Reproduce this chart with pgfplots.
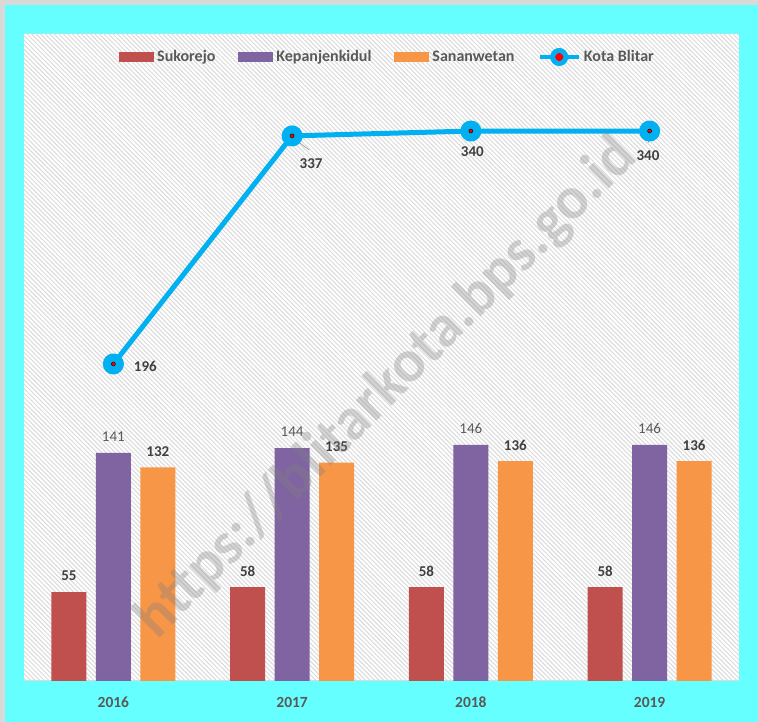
\documentclass[border=0pt]{standalone}
\usepackage{fontspec}
\setmainfont{Carlito}
\usepackage{pgfplots}
\pgfplotsset{compat=1.18}
\usetikzlibrary{patterns.meta}
\definecolor{bgcyan}{RGB}{102,255,255}
\definecolor{frame}{RGB}{217,217,217}
\definecolor{cSuk}{RGB}{192,80,77}
\definecolor{cKep}{RGB}{128,100,162}
\definecolor{cSan}{RGB}{247,150,70}
\definecolor{cLine}{RGB}{0,176,240}
\definecolor{txtDark}{RGB}{64,64,64}
\definecolor{txtGray}{RGB}{89,89,89}
\definecolor{hatch}{RGB}{218,218,218}
\begin{document}
\begin{tikzpicture}[x=1pt,y=1pt]
\fill[frame] (0,0) rectangle (758,722);
\fill[bgcyan] (5,0) rectangle (758,717);
\fill[white] (24,41) rectangle (739,688);
\fill[pattern={Lines[angle=-45,distance=3.2pt,line width=1pt]}, pattern color=hatch] (24,41) rectangle (739,688);
\begin{axis}[
  at={(24pt,41pt)}, anchor=south west,
  scale only axis, width=715pt, height=647pt,
  xmin=-0.5, xmax=3.5, ymin=0, ymax=400,
  axis y line=none, axis x line*=bottom,
  x axis line style={-, draw=frame, line width=1pt},
  xtick={0,1,2,3}, xticklabels={2016,2017,2018,2019},
  major tick length=0pt,
  xticklabel style={font=\bfseries\fontsize{15.5}{18}\selectfont, text=txtGray, anchor=center, yshift=-21pt},
  /pgf/number format/assume math mode=true,
  clip=false,
  legend columns=4,
  legend style={at={(0.5,1)}, anchor=center, xshift=6pt, yshift=-23pt, draw=none, fill=none,
    font=\bfseries\fontsize{16}{19}\selectfont, text=txtGray,
    /tikz/every odd column/.append style={column sep=1pt},
    /tikz/every even column/.append style={column sep=21pt}},
]
\addplot[draw=none, fill=cSuk, ybar, bar width=35pt, bar shift=-44.5pt,
  legend image code/.code={\fill[cSuk] (0pt,-5pt) rectangle (35pt,5pt);},
  nodes near coords,
  every node near coord/.append style={font=\bfseries\fontsize{15}{18}\selectfont, text=txtDark, anchor=center, xshift=-44.5pt, yshift=16pt}]
  coordinates {(0,55) (1,58) (2,58) (3,58)};
\addlegendentry{Sukorejo}
\addplot[draw=none, fill=cKep, ybar, bar width=35pt, bar shift=0pt,
  legend image code/.code={\fill[cKep] (0pt,-5pt) rectangle (35pt,5pt);},
  nodes near coords,
  every node near coord/.append style={font=\fontsize{15}{18}\selectfont, text=txtGray, anchor=center, yshift=16pt}]
  coordinates {(0,141) (1,144) (2,146) (3,146)};
\addlegendentry{Kepanjenkidul}
\addplot[draw=none, fill=cSan, ybar, bar width=35pt, bar shift=44.5pt,
  legend image code/.code={\fill[cSan] (0pt,-5pt) rectangle (35pt,5pt);},
  nodes near coords,
  every node near coord/.append style={font=\bfseries\fontsize{15}{18}\selectfont, text=txtDark, anchor=center, xshift=44.5pt, yshift=16pt}]
  coordinates {(0,132) (1,135) (2,136) (3,136)};
\addlegendentry{Sananwetan}
\addplot[cLine, line width=5pt, line join=round, mark=*, mark size=8pt,
  mark options={fill=cLine, draw=none},
  legend image code/.code={\draw[cLine, line width=4.5pt] (0pt,0pt) -- (39pt,0pt);
    \fill[cLine] (19.5pt,0pt) circle (6.5pt); \fill[red] (19.5pt,0pt) circle (1.6pt);}]
  coordinates {(0,196) (1,337) (2,340) (3,340)};
\addlegendentry{Kota Blitar}
\addplot[only marks, mark=*, mark size=2pt, mark options={fill=red, draw=none}, forget plot]
  coordinates {(0,196) (1,337) (2,340) (3,340)};
\draw[gray!80, line width=0.6pt] (axis cs:1,337) ++(1pt,-2pt) -- ++(16pt,-12pt);
\draw[gray!80, line width=0.6pt] (axis cs:3,340) ++(0pt,-5pt) -- ++(-1.5pt,-7pt);
\begin{scope}[every node/.style={font=\bfseries\fontsize{15}{18}\selectfont, text=txtDark}]
\node[anchor=west, xshift=17pt, yshift=-2pt] at (axis cs:0,196) {196};
\node[xshift=19pt, yshift=-28pt] at (axis cs:1,337) {337};
\node[xshift=1.5pt, yshift=-21pt] at (axis cs:2,340) {340};
\node[xshift=-1.6pt, yshift=-25pt] at (axis cs:3,340) {340};
\end{scope}
\end{axis}
\node[rotate=45, opacity=0.33, text=gray, font=\bfseries\fontsize{60}{60}\selectfont] at (387,334) {https://blitarkota.bps.go.id};
\end{tikzpicture}
\end{document}
